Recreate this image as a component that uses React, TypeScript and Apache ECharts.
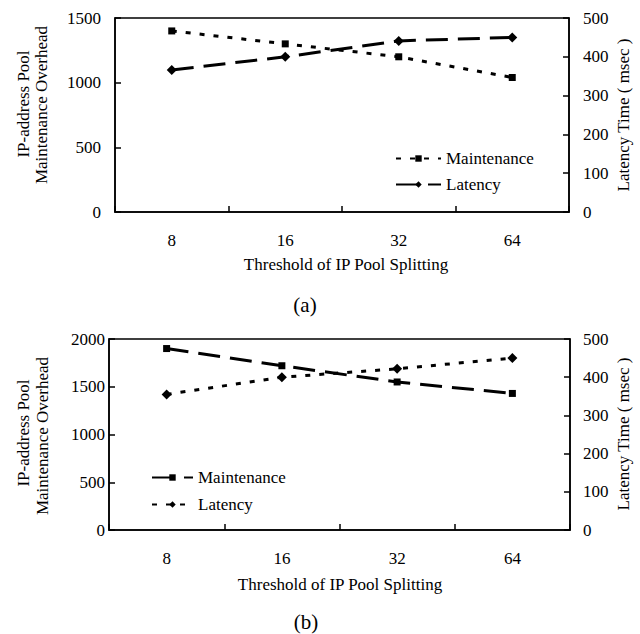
import React, { useEffect, useRef } from "react";
import * as echarts from "echarts";

const categories = ["8", "16", "32", "64"];
const maintenanceA = [1400, 1300, 1200, 1040];
const latencyA = [366, 400, 441, 450];
const maintenanceB = [1900, 1720, 1550, 1430];
const latencyB = [355, 400, 422, 450];

const leftTicksA = { min: 0, max: 1500, interval: 500 };
const leftTicksB = { min: 0, max: 2000, interval: 500 };
const rightTicks = { min: 0, max: 500, interval: 100 };

const FONT = "'Liberation Serif', 'Times New Roman', serif";
const DOTTED = [5, 9];
const LONGDASH = [22, 10];

export default function App() {
  const ref = useRef<HTMLDivElement>(null);
  useEffect(() => {
    if (!ref.current) return;
    const chart = echarts.init(ref.current, null, { renderer: "svg" });
    const axisLine = { show: true, lineStyle: { color: "#000", width: 1.5 } };
    const axisTick = { show: true, inside: true, length: 6, lineStyle: { color: "#000", width: 1.5 } };
    const label = (margin: number) => ({
      color: "#000",
      fontFamily: FONT,
      fontSize: 17,
      margin,
      formatter: (v: any) => String(v),
    });
    const xAxis = (gridIndex: number) => ({
      type: "category",
      gridIndex,
      data: categories,
      boundaryGap: true,
      axisLine,
      axisTick: { ...axisTick, alignWithLabel: false, interval: 0 },
      axisLabel: label(20),
      splitLine: { show: false },
    });
    const yAxis = (gridIndex: number, pos: string, t: any, margin: number) => ({
      type: "value",
      gridIndex,
      position: pos,
      min: t.min,
      max: t.max,
      interval: t.interval,
      axisLine,
      axisTick,
      axisLabel: label(margin),
      splitLine: { show: false },
    });
    const text = (t: string, x: number, y: number, size: number, rot = 0) => ({
      type: "text",
      x,
      y,
      rotation: rot,
      style: {
        text: t,
        font: `${size}px ${FONT}`,
        fill: "#000",
        textAlign: "center",
        textVerticalAlign: "middle",
        align: "center",
        verticalAlign: "middle",
      },
    });
    const R = Math.PI / 2;
    const lineSeries = (
      name: string,
      xi: number,
      yi: number,
      data: number[],
      symbol: string,
      size: number,
      dash: number[]
    ) => ({
      name,
      type: "line",
      xAxisIndex: xi,
      yAxisIndex: yi,
      data,
      symbol,
      symbolSize: size,
      showSymbol: true,
      lineStyle: { color: "#000", width: 3, type: dash },
      itemStyle: { color: "#000" },
    });
    const legend = (left: number, top: number, w: number, gap: number, names: string[]) => ({
      show: true,
      orient: "vertical",
      left,
      top,
      itemWidth: w,
      itemHeight: 8,
      itemGap: gap,
      data: names,
      formatter: (n: string) => n.replace(/ \([ab]\)$/, ""),
      textStyle: { color: "#000", fontFamily: FONT, fontSize: 17, lineHeight: 17 },
    });
    chart.setOption({
      animation: false,
      backgroundColor: "#fff",
      textStyle: { fontFamily: FONT },
      grid: [
        { left: 115, top: 18, width: 454, height: 194, show: true, borderColor: "#000", borderWidth: 1.5, backgroundColor: "transparent" },
        { left: 109, top: 339, width: 461, height: 191, show: true, borderColor: "#000", borderWidth: 1.5, backgroundColor: "transparent" },
      ],
      xAxis: [xAxis(0), xAxis(1)],
      yAxis: [
        yAxis(0, "left", leftTicksA, 14),
        yAxis(0, "right", rightTicks, 14),
        yAxis(1, "left", leftTicksB, 4),
        yAxis(1, "right", rightTicks, 13),
      ],
      legend: [
        legend(390, 145, 45, 9, ["Maintenance (a)", "Latency (a)"]),
        legend(146, 464, 41, 10, ["Maintenance (b)", "Latency (b)"]),
      ],
      series: [
        lineSeries("Maintenance (a)", 0, 0, maintenanceA, "rect", 7, DOTTED),
        lineSeries("Latency (a)", 0, 1, latencyA, "diamond", 10, LONGDASH),
        lineSeries("Maintenance (b)", 1, 2, maintenanceB, "rect", 7, LONGDASH),
        lineSeries("Latency (b)", 1, 3, latencyB, "diamond", 10, DOTTED),
      ],
      graphic: [
        text("IP-address Pool", 23, 104, 17, R),
        text("Maintenance Overhead", 41, 105, 17, R),
        text("Latency Time ( msec )", 623, 115, 17, R),
        text("Threshold of IP Pool Splitting", 346, 264, 17),
        text("(a)", 305, 305, 21),
        text("IP-address Pool", 23, 433, 17, R),
        text("Maintenance Overhead", 42, 436, 17, R),
        text("Latency Time ( msec )", 623, 434, 17, R),
        text("Threshold of IP Pool Splitting", 340, 584, 17),
        text("(b)", 306, 622, 21),
      ],
    });
    return () => chart.dispose();
  }, []);
  return (
    <div
      ref={ref}
      style={{ position: "absolute", left: 0, top: 0, width: 640, height: 634 }}
    />
  );
}
